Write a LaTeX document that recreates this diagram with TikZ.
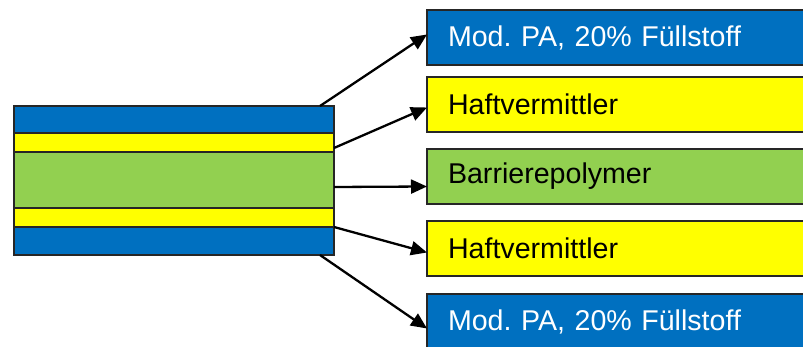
\documentclass[tikz,border=0pt]{standalone}
\usepackage{fontspec}
\setmainfont{Liberation Sans}
\usetikzlibrary{arrows.meta,calc}
\definecolor{pablue}{HTML}{0070C0}
\definecolor{hvyellow}{HTML}{FFFF00}
\definecolor{bpgreen}{HTML}{92D050}
\frenchspacing
\begin{document}
\begin{tikzpicture}[x=1pt,y=-1pt,
  layer/.style={draw=black!85,line width=1.5pt,minimum width=320pt,anchor=north west,inner sep=0pt,outer sep=0pt},
  labelbox/.style={draw=black!85,line width=1.5pt,minimum height=55pt,text width=380pt,inner xsep=21pt,
    align=left,anchor=north west,outer sep=0pt,font=\fontsize{28.6}{30}\selectfont},
  link/.style={line width=2.3pt,-{Triangle[length=16pt,width=14pt]}}]
\clip (0,0) rectangle (803,347);
\fill[white] (0,0) rectangle (803,347);
% layer stack
\node[layer,fill=pablue,minimum height=27pt] (l1) at (14,106) {};
\node[layer,fill=hvyellow,minimum height=19pt] (l2) at (14,133) {};
\node[layer,fill=bpgreen,minimum height=56pt] (l3) at (14,152) {};
\node[layer,fill=hvyellow,minimum height=19pt] (l4) at (14,208) {};
\node[layer,fill=pablue,minimum height=28pt] (l5) at (14,227) {};
% material labels
\node[labelbox,fill=pablue,text=white] (b1) at (427,10) {Mod. PA, 20\% Füllstoff};
\node[labelbox,fill=hvyellow] (b2) at (427,77) {Haftvermittler};
\node[labelbox,fill=bpgreen] (b3) at (427,149) {Barrierepolymer};
\node[labelbox,fill=hvyellow] (b4) at (427,221) {Haftvermittler};
\node[labelbox,fill=pablue,text=white] (b5) at (427,294) {Mod. PA, 20\% Füllstoff};
% connectors
\draw[link] ($(l1.north east)+(-14,0)$) -- ($(b1.west)+(0,-3)$);
\draw[link] ($(l2.south east)+(0,-4)$) -- ($(b2.west)+(0,3)$);
\draw[link] ($(l3.east)+(0,7)$) -- ($(b3.west)+(0,10)$);
\draw[link] (l4.south east) -- ($(b4.west)+(0,4)$);
\draw[link] ($(l5.south east)+(-14,0)$) -- ($(b5.west)+(0,7)$);
\end{tikzpicture}
\end{document}
